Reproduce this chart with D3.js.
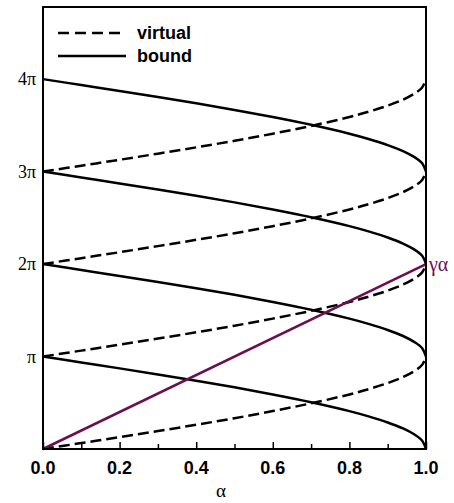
<!DOCTYPE html>
<html><head><meta charset="utf-8">
<script src="https://cdn.jsdelivr.net/npm/d3@7"></script>
<style>body{margin:0;background:#fff}</style>
</head><body>
<svg id="c" width="454" height="503"></svg>
<script>
// α sample positions
const alpha = [0, 0.1, 0.2, 0.3, 0.4, 0.5, 0.6, 0.7, 0.8, 0.85, 0.9, 0.94, 0.97, 0.99, 1.0];
// bound curves (y in units of π)
const bound4 = [4.000, 3.936, 3.872, 3.806, 3.738, 3.667, 3.590, 3.506, 3.410, 3.353, 3.287, 3.222, 3.156, 3.090, 3.000];
const bound3 = [3.000, 2.936, 2.872, 2.806, 2.738, 2.667, 2.590, 2.506, 2.410, 2.353, 2.287, 2.222, 2.156, 2.090, 2.000];
const bound2 = [2.000, 1.936, 1.872, 1.806, 1.738, 1.667, 1.590, 1.506, 1.410, 1.353, 1.287, 1.222, 1.156, 1.090, 1.000];
const bound1 = [1.000, 0.936, 0.872, 0.806, 0.738, 0.667, 0.590, 0.506, 0.410, 0.353, 0.287, 0.222, 0.156, 0.090, 0.000];
// virtual curves (y in units of π)
const virtual3 = [3.000, 3.064, 3.128, 3.194, 3.262, 3.333, 3.410, 3.494, 3.590, 3.647, 3.713, 3.778, 3.844, 3.910, 4.000];
const virtual2 = [2.000, 2.064, 2.128, 2.194, 2.262, 2.333, 2.410, 2.494, 2.590, 2.647, 2.713, 2.778, 2.844, 2.910, 3.000];
const virtual1 = [1.000, 1.064, 1.128, 1.194, 1.262, 1.333, 1.410, 1.494, 1.590, 1.647, 1.713, 1.778, 1.844, 1.910, 2.000];
const virtual0 = [0.000, 0.064, 0.128, 0.194, 0.262, 0.333, 0.410, 0.494, 0.590, 0.647, 0.713, 0.778, 0.844, 0.910, 1.000];
// γα line
const lineAlpha = [0, 1];
const lineGamma = [0, 2];
const xTicks = [0, 0.1, 0.2, 0.3, 0.4, 0.5, 0.6, 0.7, 0.8, 0.9, 1.0];
const xTickLabels = ["0.0", "0.2", "0.4", "0.6", "0.8", "1.0"];
const yTicks = [1, 2, 3, 4];
const yTickLabels = ["π", "2π", "3π", "4π"];

const svg = d3.select("#c");
const L = 43, R = 426, T = 7, B = 449;
const x = d3.scaleLinear().domain([0, 1]).range([L, R]);
const y = d3.scaleLinear().domain([0, 4.78]).range([B, T]);

const lineC = d3.line().x(d => x(d[0])).y(d => y(d[1])).curve(d3.curveCatmullRom.alpha(0.5));

const g = svg.append("g");
function draw(vals, dashed) {
  g.append("path").datum(alpha.map((a, i) => [a, vals[i]]))
    .attr("d", lineC).attr("fill", "none").attr("stroke", "#000")
    .attr("stroke-width", 2.5)
    .attr("stroke-dasharray", dashed ? "11,5" : null);
}
[bound4, bound3, bound2, bound1].forEach(v => draw(v, false));
[virtual3, virtual2, virtual1, virtual0].forEach(v => draw(v, true));

// γα line
g.append("path").datum(lineAlpha.map((a, i) => [a, lineGamma[i]]))
  .attr("d", d3.line().x(d => x(d[0])).y(d => y(d[1])))
  .attr("fill", "none").attr("stroke", "#6b0f4f").attr("stroke-width", 2.5);
svg.append("text").attr("x", x(1) + 3).attr("y", y(2) + 7)
  .attr("font-family", "Liberation Serif, serif").attr("font-size", 20)
  .attr("fill", "#6b0f4f").text("γα");

// frame
svg.append("rect").attr("x", L).attr("y", T).attr("width", R - L).attr("height", B - T)
  .attr("fill", "none").attr("stroke", "#000").attr("stroke-width", 2);

// x axis ticks (inside)
const xAxis = d3.axisBottom(x).tickValues(xTicks).tickSize(-6).tickFormat("");
const xa = svg.append("g").attr("transform", `translate(0,${B})`).call(xAxis);
xa.select(".domain").remove();
xa.selectAll("line").attr("stroke-width", 1.5).attr("y2", (d) => (Math.round(d * 10) % 2 === 0 ? -7 : -5));
svg.selectAll(".xl").data(xTickLabels).enter().append("text")
  .attr("x", d => x(+d)).attr("y", B + 25).attr("text-anchor", "middle")
  .attr("font-family", "Liberation Sans, Arial, sans-serif").attr("font-weight", "bold")
  .attr("font-size", 18).text(d => d);

// y labels
svg.selectAll(".yl").data(yTicks).enter().append("text")
  .attr("x", 36).attr("y", d => y(d) + 6).attr("text-anchor", "end")
  .attr("font-family", "Liberation Serif, serif").attr("font-size", 18)
  .text((d, i) => yTickLabels[i]);

svg.append("text").attr("x", 221).attr("y", 497).attr("text-anchor", "middle")
  .attr("font-family", "Liberation Serif, serif").attr("font-size", 19).text("α");

// legend
const leg = [{label: "virtual", dash: "11,6", yy: 33}, {label: "bound", dash: null, yy: 56}];
leg.forEach(l => {
  svg.append("line").attr("x1", 58).attr("x2", 126).attr("y1", l.yy).attr("y2", l.yy)
    .attr("stroke", "#000").attr("stroke-width", 2.5).attr("stroke-dasharray", l.dash);
  svg.append("text").attr("x", 137).attr("y", l.yy + 6)
    .attr("font-family", "Liberation Sans, Arial, sans-serif").attr("font-weight", "bold")
    .attr("font-size", 18).text(l.label);
});
</script>
</body></html>
